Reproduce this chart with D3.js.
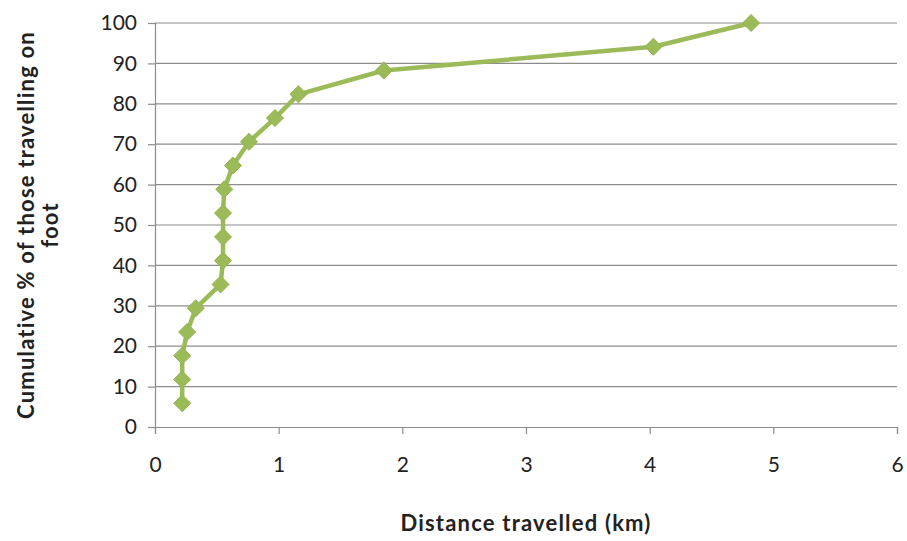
<!DOCTYPE html>
<html>
<head>
<meta charset="utf-8">
<script src="https://cdn.jsdelivr.net/npm/d3@7"></script>
<style>
  html, body { margin: 0; padding: 0; background: #fff; }
  svg { display: block; font-family: Lato, "Open Sans", sans-serif; }
</style>
</head>
<body>
<svg id="chart" width="907" height="541"></svg>
<script>
// Distance travelled on foot (km) and the cumulative share of walkers
const distanceKm = [0.22, 0.22, 0.22, 0.26, 0.33, 0.53, 0.55, 0.55, 0.55, 0.56,
                    0.63, 0.76, 0.97, 1.16, 1.85, 4.03, 4.82];
const cumulativePct = [5.88, 11.76, 17.65, 23.53, 29.41, 35.29, 41.18, 47.06, 52.94,
                       58.82, 64.71, 70.59, 76.47, 82.35, 88.24, 94.12, 100];
const xTicks = [0, 1, 2, 3, 4, 5, 6];
const yTicks = [0, 10, 20, 30, 40, 50, 60, 70, 80, 90, 100];

const svg = d3.select("#chart");
const margin = { left: 155, right: 10, top: 23, bottom: 114 };
const W = 907, H = 541;

const x = d3.scaleLinear().domain([0, 6]).range([margin.left, W - margin.right]);
const y = d3.scaleLinear().domain([0, 100]).range([H - margin.bottom, margin.top]);

// horizontal gridlines
svg.append("g")
  .selectAll("line")
  .data(yTicks.filter(d => d > 0))
  .join("line")
  .attr("x1", x(0)).attr("x2", x(6))
  .attr("y1", d => y(d)).attr("y2", d => y(d))
  .attr("stroke", "#8c8c8c").attr("stroke-width", 1.2);

// y axis
const yAxis = svg.append("g")
  .attr("transform", `translate(${x(0)},0)`)
  .call(d3.axisLeft(y).tickValues(yTicks).tickFormat(d3.format("d")).tickSize(7).tickPadding(11));
// x axis
const xAxis = svg.append("g")
  .attr("transform", `translate(0,${y(0)})`)
  .call(d3.axisBottom(x).tickValues(xTicks).tickFormat(d3.format("d")).tickSize(7).tickPadding(23));

[yAxis, xAxis].forEach(g => {
  g.select(".domain").attr("stroke", "#8c8c8c").attr("stroke-width", 1.2);
  g.selectAll(".tick line").attr("stroke", "#8c8c8c").attr("stroke-width", 1.2);
  g.selectAll(".tick text")
    .attr("fill", "#222")
    .style("font-family", "Lato, sans-serif")
    .style("font-size", "21px");
});

// series line
const line = d3.line()
  .x((d, i) => x(distanceKm[i]))
  .y(d => y(d));

svg.append("path")
  .datum(cumulativePct)
  .attr("fill", "none")
  .attr("stroke", "#9bbb59")
  .attr("stroke-width", 4.5)
  .attr("stroke-linejoin", "round")
  .attr("d", line);

// diamond markers
const diamond = d3.symbol().type(d3.symbolDiamond2).size(185);
svg.append("g")
  .selectAll("path")
  .data(cumulativePct)
  .join("path")
  .attr("d", diamond)
  .attr("transform", (d, i) => `translate(${x(distanceKm[i])},${y(d)})`)
  .attr("fill", "#9bbb59")
  .attr("stroke", "#92b452")
  .attr("stroke-width", 1);

// axis titles
svg.append("text")
  .attr("x", (x(0) + x(6)) / 2)
  .attr("y", 531)
  .attr("text-anchor", "middle")
  .attr("font-weight", "bold")
  .attr("font-size", 22)
  .attr("letter-spacing", 1.2)
  .attr("fill", "#222")
  .text("Distance travelled (km)");

const yTitle = svg.append("text")
  .attr("transform", `translate(0,${(y(0) + y(100)) / 2}) rotate(-90)`)
  .attr("text-anchor", "middle")
  .attr("font-weight", "bold")
  .attr("font-size", 22)
  .attr("letter-spacing", 1.2)
  .attr("fill", "#222");
yTitle.append("tspan").attr("x", 0).attr("y", 34).text("Cumulative % of those travelling on");
yTitle.append("tspan").attr("x", 0).attr("y", 58).text("foot");
</script>
</body>
</html>
